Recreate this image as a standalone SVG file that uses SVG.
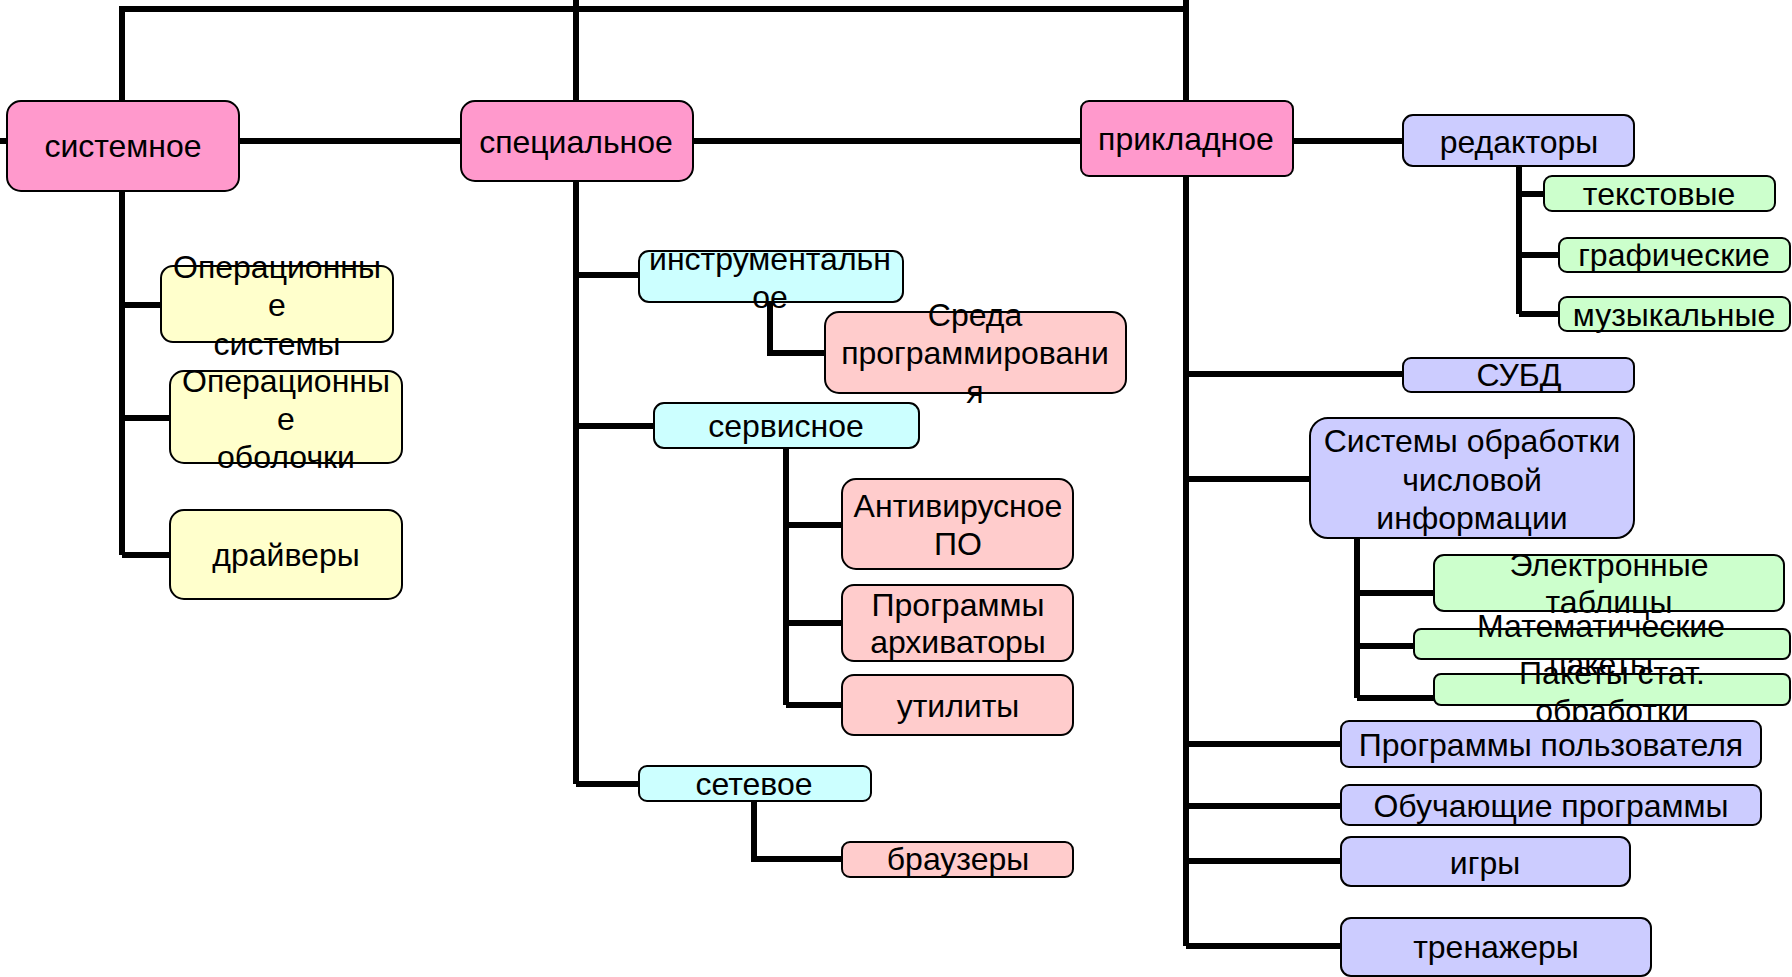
<svg xmlns="http://www.w3.org/2000/svg" width="1792" height="977" viewBox="0 0 1792 977">
<style>
.c{fill:none;stroke:#000;stroke-width:6;stroke-linejoin:miter}
.n{stroke:#000;stroke-width:2}
.p{fill:#FF99CC}.y{fill:#FFFFCC}.cy{fill:#CCFFFF}.r{fill:#FFCCCC}.l{fill:#CCCCFF}.g{fill:#CCFFCC}
text{font-family:"Liberation Sans",Arial,sans-serif;font-size:32px;fill:#000;text-anchor:middle}
</style>
<rect width="1792" height="977" fill="#fff"/>
<g id="connectors">
<path class="c" d="M122,100 V9 H1186"/>
<path class="c" d="M576,0 V784"/>
<path class="c" d="M1186,0 V946"/>
<path class="c" d="M0,141 H1403"/>
<path class="c" d="M122,191 V555"/>
<path class="c" d="M122,305 H161 M122,418 H170 M122,555 H170"/>
<path class="c" d="M576,275 H639 M576,426 H654 M576,784 H639"/>
<path class="c" d="M770,302 V353 H825"/>
<path class="c" d="M786,448 V705 M786,525 H842 M786,623 H842 M786,705 H842"/>
<path class="c" d="M754,801 V859 H842"/>
<path class="c" d="M1519,166 V314 M1519,194 H1544 M1519,255 H1559 M1519,314 H1559"/>
<path class="c" d="M1186,374 H1403 M1186,479 H1310"/>
<path class="c" d="M1357,538 V698 M1357,593 H1434 M1357,646 H1414 M1357,698 H1434"/>
<path class="c" d="M1186,744 H1341 M1186,806 H1341 M1186,861 H1341 M1186,946 H1341"/>
</g>
<g id="sistemnoe"><rect class="n p" x="7" y="101" width="232" height="90" rx="14"/><text x="123" y="157">системное</text></g>
<g id="os"><rect class="n y" x="161" y="266" width="232" height="76" rx="12"/><text x="277" y="278">Операционны</text><text x="277" y="316">е</text><text x="277" y="355">системы</text></g>
<g id="shells"><rect class="n y" x="170" y="371" width="232" height="92" rx="14"/><text x="286" y="392">Операционны</text><text x="286" y="430">е</text><text x="286" y="468">оболочки</text></g>
<g id="drivers"><rect class="n y" x="170" y="510" width="232" height="89" rx="14"/><text x="286" y="566">драйверы</text></g>
<g id="special"><rect class="n p" x="461" y="101" width="232" height="80" rx="14"/><text x="576" y="153">специальное</text></g>
<g id="instr"><rect class="n cy" x="639" y="251" width="264" height="51" rx="10"/><text x="770" y="270">инструментальн</text><text x="770" y="308">ое</text></g>
<g id="ide"><rect class="n r" x="825" y="312" width="301" height="81" rx="14"/><text x="975" y="326">Среда</text><text x="975" y="364">программировани</text><text x="975" y="403">я</text></g>
<g id="service"><rect class="n cy" x="654" y="403" width="265" height="45" rx="10"/><text x="786" y="437">сервисное</text></g>
<g id="antivirus"><rect class="n r" x="842" y="479" width="231" height="90" rx="14"/><text x="958" y="517">Антивирусное</text><text x="958" y="555">ПО</text></g>
<g id="archivers"><rect class="n r" x="842" y="585" width="231" height="76" rx="12"/><text x="958" y="616">Программы</text><text x="958" y="653">архиваторы</text></g>
<g id="utils"><rect class="n r" x="842" y="675" width="231" height="60" rx="12"/><text x="958" y="717">утилиты</text></g>
<g id="network"><rect class="n cy" x="639" y="766" width="232" height="35" rx="8"/><text x="754" y="795">сетевое</text></g>
<g id="browsers"><rect class="n r" x="842" y="842" width="231" height="35" rx="8"/><text x="958" y="870">браузеры</text></g>
<g id="applied"><rect class="n p" x="1081" y="101" width="212" height="75" rx="8"/><text x="1186" y="150">прикладное</text></g>
<g id="editors"><rect class="n l" x="1403" y="115" width="231" height="51" rx="10"/><text x="1519" y="153">редакторы</text></g>
<g id="text-ed"><rect class="n g" x="1544" y="176" width="231" height="35" rx="8"/><text x="1659" y="205">текстовые</text></g>
<g id="graphic-ed"><rect class="n g" x="1559" y="238" width="231" height="34" rx="8"/><text x="1674" y="266">графические</text></g>
<g id="music-ed"><rect class="n g" x="1559" y="297" width="231" height="34" rx="8"/><text x="1674" y="326">музыкальные</text></g>
<g id="dbms"><rect class="n l" x="1403" y="358" width="231" height="34" rx="8"/><text x="1519" y="386">СУБД</text></g>
<g id="numeric"><rect class="n l" x="1310" y="418" width="324" height="120" rx="18"/><text x="1472" y="452">Системы обработки</text><text x="1472" y="491">числовой</text><text x="1472" y="529">информации</text></g>
<g id="spreadsheets"><rect class="n g" x="1434" y="555" width="350" height="56" rx="10"/><text x="1609" y="576">Электронные</text><text x="1609" y="613">таблицы</text></g>
<g id="math"><rect class="n g" x="1414" y="629" width="376" height="30" rx="7"/><text x="1601" y="637">Математические</text><text x="1601" y="675">пакеты</text></g>
<g id="stat"><rect class="n g" x="1434" y="674" width="356" height="31" rx="7"/><text x="1612" y="684">Пакеты стат.</text><text x="1612" y="722">обработки</text></g>
<g id="user-progs"><rect class="n l" x="1341" y="721" width="420" height="46" rx="8"/><text x="1551" y="756">Программы пользователя</text></g>
<g id="edu"><rect class="n l" x="1341" y="785" width="420" height="40" rx="8"/><text x="1551" y="817">Обучающие программы</text></g>
<g id="games"><rect class="n l" x="1341" y="837" width="289" height="49" rx="10"/><text x="1485" y="874">игры</text></g>
<g id="trainers"><rect class="n l" x="1341" y="918" width="310" height="58" rx="10"/><text x="1496" y="958">тренажеры</text></g>
</svg>
